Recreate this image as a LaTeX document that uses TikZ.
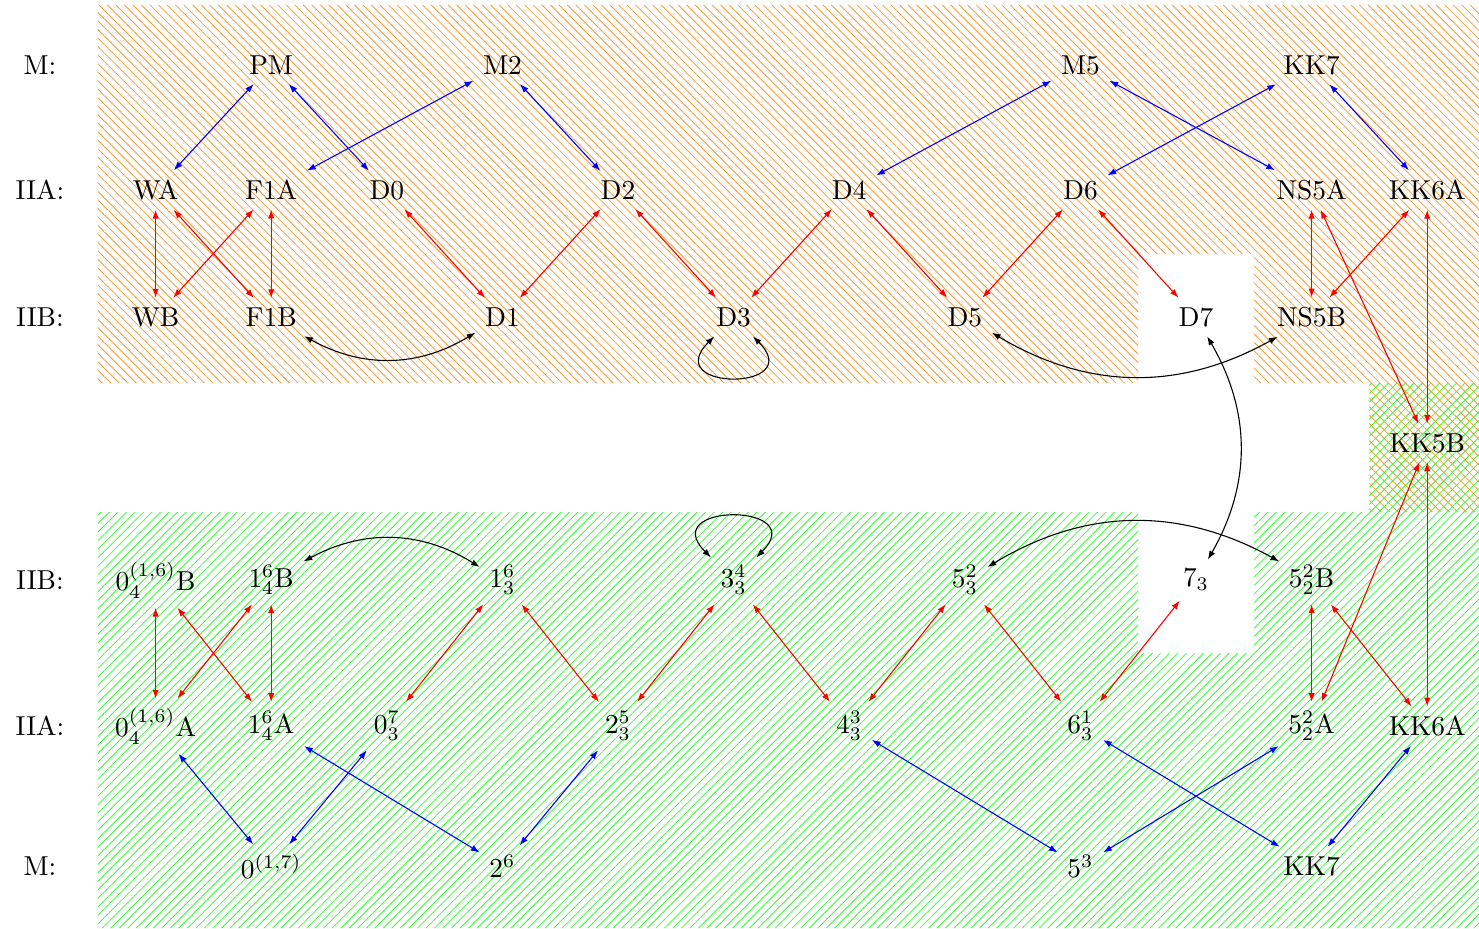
\documentclass[tikz,border=0pt]{standalone}
\usepackage{tikz}
\usetikzlibrary{arrows.meta,patterns.meta}

\begin{document}
\begin{tikzpicture}[
  x=1.484cm, y=1.284cm,
  >={Latex[length=3.2pt,width=2.3pt]},
  mlink/.style={<->, blue},
  slink/.style={<->, red},
  tlink/.style={<->, black},
  hatchA/.style={pattern={Lines[angle=-45,distance=2.2pt,line width=0.3pt]},
                 pattern color=orange!80},
  hatchB/.style={pattern={Lines[angle=45,distance=2.2pt,line width=0.3pt]},
                 pattern color=green!80},
]
  \useasboundingbox (-0.346,0) rectangle (12.448,9.28);

  % Shaded sectors
  \path[hatchA] (0.5,5.45) -- (0.5,9.23) -- (12.45,9.23) -- (12.45,4.16)
    -- (11.5,4.16) -- (11.5,5.45) -- (10.5,5.45) -- (10.5,6.74)
    -- (9.5,6.74) -- (9.5,5.45) -- cycle;
  \path[hatchB] (0.5,0) -- (0.5,4.16) -- (9.5,4.16) -- (9.5,2.75)
    -- (10.5,2.75) -- (10.5,4.16) -- (11.5,4.16) -- (11.5,5.45)
    -- (12.45,5.45) -- (12.45,0) -- cycle;

  % Row labels
  \node (lm) at (0, 8.63) {M:};
  \node (la) at (0, 7.38) {IIA:};
  \node (lb) at (0, 6.11) {IIB:};
  \node (lbL) at (0, 3.48) {IIB:};
  \node (laL) at (0, 2.02) {IIA:};
  \node (lmL) at (0, 0.62) {M:};

  % Upper half
  \node (pm) at (2, 8.63) {PM};
  \node (m2) at (4, 8.63) {M2};
  \node (m5) at (9, 8.63) {M5};
  \node (kk7) at (11, 8.63) {KK7};

  \node (wa) at (1, 7.38) {WA};
  \node (f1a) at (2, 7.38) {F1A};
  \node (d0) at (3, 7.38) {D0};
  \node (d2) at (5, 7.38) {D2};
  \node (d4) at (7, 7.38) {D4};
  \node (d6) at (9, 7.38) {D6};
  \node (ns5a) at (11, 7.38) {NS5A};
  \node (kk6a) at (12, 7.38) {KK6A};

  \node (wb) at (1, 6.11) {WB};
  \node (f1b) at (2, 6.11) {F1B};
  \node (d1) at (4, 6.11) {D1};
  \node (d3) at (6, 6.11) {D3};
  \node (d5) at (8, 6.11) {D5};
  \node (d7) at (10, 6.11) {D7};
  \node (ns5b) at (11, 6.11) {NS5B};

  \node (kk5b) at (12, 4.85) {KK5B};

  % Lower half
  \node (n0b) at (1, 3.48) {$0_4^{(1,6)}$B};
  \node (n1b) at (2, 3.48) {$1_4^6$B};
  \node (n13) at (4, 3.48) {$1_3^6$};
  \node (n34) at (6, 3.48) {$3_3^4$};
  \node (n52) at (8, 3.48) {$5_3^2$};
  \node (n73) at (10, 3.48) {$7_3$};
  \node (n522b) at (11, 3.48) {$5_2^2$B};

  \node (n0a) at (1, 2.02) {$0_4^{(1,6)}$A};
  \node (n1a) at (2, 2.02) {$1_4^6$A};
  \node (n03) at (3, 2.02) {$0_3^7$};
  \node (n25) at (5, 2.02) {$2_3^5$};
  \node (n43) at (7, 2.02) {$4_3^3$};
  \node (n61) at (9, 2.02) {$6_3^1$};
  \node (n522a) at (11, 2.02) {$5_2^2$A};
  \node (kk6aL) at (12, 2.02) {KK6A};

  \node (n017) at (2, 0.62) {$0^{(1,7)}$};
  \node (n26) at (4, 0.62) {$2^6$};
  \node (n53) at (9, 0.62) {$5^3$};
  \node (kk7L) at (11, 0.62) {KK7};

  % M-theory lifts
  \draw[mlink] (pm) -- (wa);
  \draw[mlink] (pm) -- (d0);
  \draw[mlink] (m2) -- (f1a);
  \draw[mlink] (m2) -- (d2);
  \draw[mlink] (m5) -- (d4);
  \draw[mlink] (m5) -- (ns5a);
  \draw[mlink] (kk7) -- (d6);
  \draw[mlink] (kk7) -- (kk6a);

  \draw[mlink] (n0a) -- (n017);
  \draw[mlink] (n017) -- (n03);
  \draw[mlink] (n1a) -- (n26);
  \draw[mlink] (n26) -- (n25);
  \draw[mlink] (n43) -- (n53);
  \draw[mlink] (n53) -- (n522a);
  \draw[mlink] (n61) -- (kk7L);
  \draw[mlink] (kk7L) -- (kk6aL);

  % T-dualities
  \draw[slink] (wa) -- (wb);
  \draw[slink] (wa) -- (f1b);
  \draw[slink] (f1a) -- (wb);
  \draw[slink] (f1a) -- (f1b);
  \draw[slink] (d0) -- (d1);
  \draw[slink] (d1) -- (d2);
  \draw[slink] (d2) -- (d3);
  \draw[slink] (d3) -- (d4);
  \draw[slink] (d4) -- (d5);
  \draw[slink] (d5) -- (d6);
  \draw[slink] (d6) -- (d7);
  \draw[slink] (ns5a) -- (ns5b);
  \draw[slink] (kk6a) -- (ns5b);
  \draw[slink] (ns5a) -- (kk5b);
  \draw[slink] (kk6a) -- (kk5b);

  \draw[slink] (n0b) -- (n0a);
  \draw[slink] (n0b) -- (n1a);
  \draw[slink] (n1b) -- (n0a);
  \draw[slink] (n1b) -- (n1a);
  \draw[slink] (n13) -- (n03);
  \draw[slink] (n13) -- (n25);
  \draw[slink] (n34) -- (n25);
  \draw[slink] (n34) -- (n43);
  \draw[slink] (n52) -- (n43);
  \draw[slink] (n52) -- (n61);
  \draw[slink] (n61) -- (n73);
  \draw[slink] (n522b) -- (n522a);
  \draw[slink] (n522b) -- (kk6aL);
  \draw[slink] (kk5b) -- (n522a);
  \draw[slink] (kk5b) -- (kk6aL);

  % S-dualities
  \draw[tlink] (f1b) to[bend right=30] (d1);
  \draw[tlink] (d3) to[out=-135, in=-45, distance=10mm] (d3);
  \draw[tlink] (d5) to[bend right=30] (ns5b);
  \draw[tlink] (d7) to[bend left=30] (n73);
  \draw[tlink] (n1b) to[bend left=30] (n13);
  \draw[tlink] (n34) to[out=135, in=45, distance=10mm] (n34);
  \draw[tlink] (n52) to[bend left=30] (n522b);
\end{tikzpicture}
\end{document}
